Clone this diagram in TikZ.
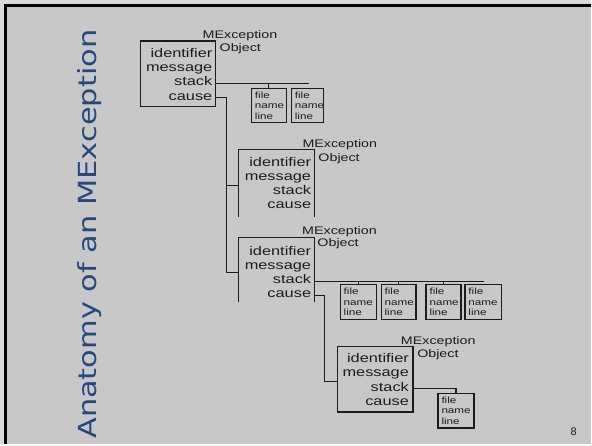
\documentclass[tikz,border=0pt]{standalone}
\usepackage{fontspec}
\setmainfont{Liberation Sans}
\newfontfamily\dfont[FakeStretch=1.3]{Liberation Sans}
\newfontfamily\tfont[FakeStretch=1.22]{DejaVu Sans}
\definecolor{bgc}{RGB}{200,200,200}
\definecolor{bglight}{RGB}{218,218,218}
\definecolor{titleblue}{RGB}{38,72,128}
\definecolor{ink}{RGB}{28,28,28}
\newcommand\mexfields[4]{%
  \node[fld] (#1i) at (#2,#3) {identifier};
  \node[fld] (#1m) at (#2,#3+#4) {message};
  \node[fld] (#1s) at (#2,#3+2*#4) {stack};
  \node[fld] (#1c) at (#2,#3+3*#4) {cause};
}
\begin{document}
\begin{tikzpicture}[x=1pt,y=-1pt,
  obox/.style={draw=ink,line width=1.3pt,anchor=north west,inner sep=0pt,outer sep=0pt},
  nobox/.style={anchor=north west,inner sep=0pt,outer sep=0pt},
  bx/.style={draw=ink,line width=1.3pt},
  fld/.style={anchor=base east,inner sep=0pt,text=ink,font=\dfont\fontsize{12.6}{14}\selectfont},
  lbl/.style={anchor=base west,inner sep=0pt,text=ink,font=\dfont\fontsize{11}{13}\selectfont},
  fbox/.style={draw=ink,line width=1.2pt,anchor=north west,inner xsep=3.5pt,inner ysep=0pt,outer sep=0pt,align=left,text=ink,font=\dfont\fontsize{9}{10.5}\selectfont},
  ln/.style={draw=ink,line width=1.1pt},
  ttl/.style={rotate=90,anchor=base west,inner sep=0pt,text=titleblue,font=\tfont\fontsize{25}{30}\selectfont},
  pg/.style={anchor=base,inner sep=0pt,text=ink,font=\fontsize{11}{13}\selectfont}]
% background and frame
\fill[bglight] (0,0) rectangle (592,445);
\fill[bgc] (5,5) rectangle (592,445);
\draw[line width=2.7pt,black] (5.5,445) -- (5.5,5.5) -- (592,5.5);
\useasboundingbox (0,0) rectangle (592,445);
% title and page number
\node[ttl] (title) at (96.7,440) {Anatomy of an MException};
\node[pg] (pnum) at (575,436.5) {8};
% object 1
\node[obox,minimum width=75pt,minimum height=66pt] (b1) at (141,41) {};
\mexfields{b1}{213}{57.5}{14.3}
\node[lbl] (b1l) at (203,38.3) {MException};
\node[lbl] (b1o) at (220,52) {Object};
\node[fbox,text width=28pt,minimum height=34pt] (fa1) at (252,89) {file\\name\\line};
\node[fbox,text width=25pt,minimum height=34pt] (fb1) at (292,89) {file\\name\\line};
% object 2
\node[nobox,minimum width=76pt,minimum height=67pt] (b2) at (239,150) {};
\draw[bx] (b2.south west) -- (b2.north west) -- (b2.north east) -- (b2.south east);
\mexfields{b2}{312}{166.5}{14.3}
\node[lbl] (b2l) at (303,148.3) {MException};
\node[lbl] (b2o) at (319,161.7) {Object};
% object 3
\node[nobox,minimum width=76pt,minimum height=65pt] (b3) at (239,238) {};
\draw[bx] (b3.south west) -- (b3.north west) -- (b3.north east) -- (b3.south east);
\mexfields{b3}{312}{256.5}{14}
\node[lbl] (b3l) at (302.7,235) {MException};
\node[lbl] (b3o) at (318,247.3) {Object};
\node[fbox,text width=29pt,minimum height=35pt] (fa3) at (341,285) {file\\name\\line};
\node[fbox,text width=28pt,minimum height=35pt] (fb3) at (382,285) {file\\name\\line};
\node[fbox,text width=28pt,minimum height=35pt] (fc3) at (427,285) {file\\name\\line};
\node[fbox,text width=30pt,minimum height=35pt] (fd3) at (466,285) {file\\name\\line};
% object 4
\node[obox,minimum width=76pt,minimum height=66pt] (b4) at (338,347) {};
\mexfields{b4}{410}{363.3}{14.5}
\node[lbl] (b4l) at (401.7,345) {MException};
\node[lbl] (b4o) at (418,358.3) {Object};
\node[fbox,text width=29pt,minimum height=35pt] (fa4) at (439,394) {file\\name\\line};
% connectors, group 1
\coordinate (s1e) at (310,0);
\draw[ln] (b1.east |- b1s.mid) -- (s1e |- b1s.mid);
\draw[ln] (fa1.north) -- (fa1.north |- b1s.mid);
\coordinate (j2) at (227,186);
\coordinate (j3) at (227,273);
\draw[ln] (b1.east |- b1c.mid) -| (j3) -- (b3.west |- j3);
\draw[ln] (j2) -- (b2.west |- j2);
% connectors, group 3
\coordinate (s3e) at (485,0);
\draw[ln] (b3.east |- b3s.mid) -- (s3e |- b3s.mid);
\foreach \f in {fa3,fb3,fc3} \draw[ln] (\f.north) -- (\f.north |- b3s.mid);
\coordinate (j4) at (325,382);
\draw[ln] (b3.east |- b3c.mid) -| (j4) -- (b4.west |- j4);
% connectors, group 4
\draw[ln] (b4.east |- b4s.mid) -| (fa4.north);
\end{tikzpicture}
\end{document}
